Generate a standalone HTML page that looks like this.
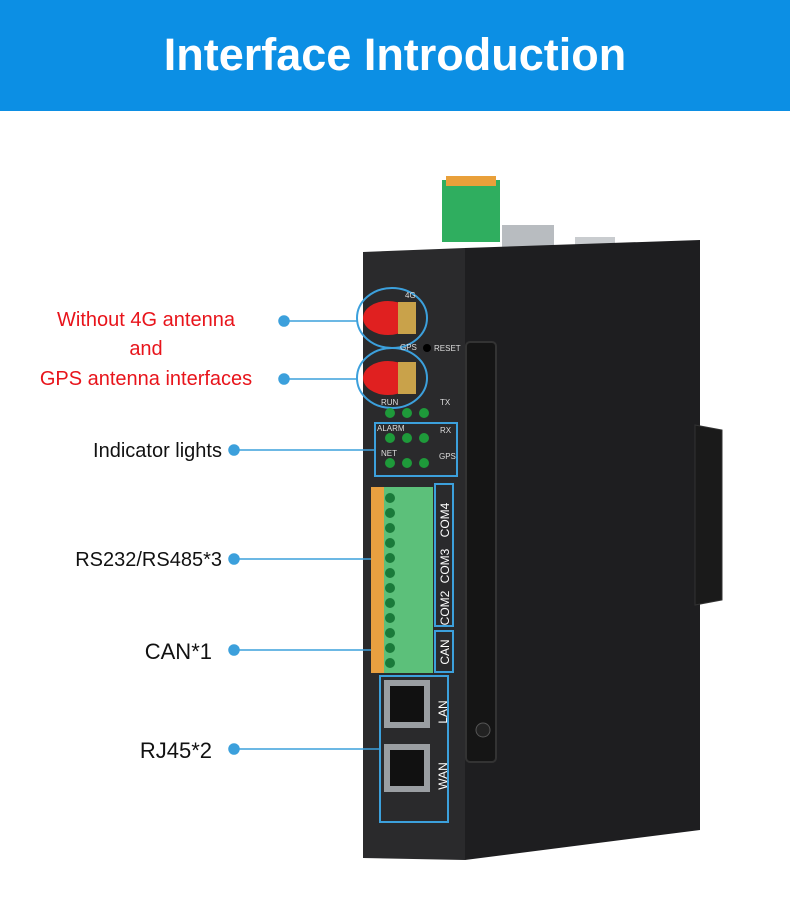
<!DOCTYPE html>
<html><head><meta charset="utf-8"><style>
body{margin:0;width:790px;height:893px;background:#fff;overflow:hidden;font-family:"Liberation Sans",Arial,sans-serif}
</style></head><body>
<svg width="790" height="893" viewBox="0 0 790 893" xmlns="http://www.w3.org/2000/svg" font-family="Liberation Sans, Arial, sans-serif">
<rect x="0" y="0" width="790" height="111" fill="#0c8fe4"/>
<text x="395" y="70" text-anchor="middle" fill="#fff" font-size="45" font-weight="bold">Interface Introduction</text>
<!-- top connectors -->
<rect x="442" y="180" width="58" height="62" fill="#2fae5f"/>
<rect x="446" y="176" width="50" height="10" fill="#e9a03a"/>
<rect x="502" y="225" width="52" height="22" fill="#b8bcc0"/>
<rect x="575" y="237" width="40" height="12" fill="#c9cccf"/>
<!-- side face -->
<polygon points="465,248 700,240 700,830 465,860" fill="#1e1e20"/>
<!-- din rail -->
<polygon points="695,425 722,430 722,600 695,605" fill="#1a1a1a" stroke="#333"/>
<!-- plate on side -->
<rect x="466" y="342" width="30" height="420" rx="4" fill="#151515" stroke="#333" stroke-width="2"/>
<circle cx="483" cy="730" r="7" fill="#222" stroke="#555"/>
<!-- front face -->
<polygon points="363,252 465,248 465,860 363,858" fill="#2a2a2c"/>
<!-- antennas -->
<g>
<ellipse cx="388" cy="318" rx="25" ry="17" fill="#e02020"/>
<rect x="398" y="302" width="18" height="32" fill="#c9a24a"/>
<ellipse cx="388" cy="378" rx="25" ry="17" fill="#e02020"/>
<rect x="398" y="362" width="18" height="32" fill="#c9a24a"/>
</g>
<ellipse cx="392" cy="318" rx="35" ry="30" fill="none" stroke="#3ca0dc" stroke-width="2"/>
<ellipse cx="392" cy="378" rx="35" ry="30" fill="none" stroke="#3ca0dc" stroke-width="2"/>
<text x="405" y="298" font-size="8" fill="#ddd">4G</text>
<text x="400" y="350" font-size="8" fill="#ddd">GPS</text>
<circle cx="427" cy="348" r="4" fill="#000"/>
<text x="434" y="351" font-size="8" fill="#ddd">RESET</text>
<text x="381" y="405" font-size="8" fill="#ddd">RUN</text>
<text x="440" y="405" font-size="8" fill="#ddd">TX</text>
<text x="377" y="431" font-size="8" fill="#ddd">ALARM</text>
<text x="440" y="433" font-size="8" fill="#ddd">RX</text>
<text x="381" y="456" font-size="8" fill="#ddd">NET</text>
<text x="439" y="459" font-size="8" fill="#ddd">GPS</text>
<g fill="#1e9a3a">
<circle cx="390" cy="413" r="5"/><circle cx="407" cy="413" r="5"/><circle cx="424" cy="413" r="5"/>
<circle cx="390" cy="438" r="5"/><circle cx="407" cy="438" r="5"/><circle cx="424" cy="438" r="5"/>
<circle cx="390" cy="463" r="5"/><circle cx="407" cy="463" r="5"/><circle cx="424" cy="463" r="5"/>
</g>
<rect x="375" y="423" width="82" height="53" fill="none" stroke="#3ca0dc" stroke-width="2"/>
<!-- terminal block -->
<rect x="371" y="487" width="13" height="186" fill="#e8a040"/>
<rect x="384" y="487" width="49" height="186" fill="#5cc07a"/>
<g fill="#1a7a3a">
<circle cx="390" cy="498" r="5"/><circle cx="390" cy="513" r="5"/><circle cx="390" cy="528" r="5"/><circle cx="390" cy="543" r="5"/><circle cx="390" cy="558" r="5"/><circle cx="390" cy="573" r="5"/><circle cx="390" cy="588" r="5"/><circle cx="390" cy="603" r="5"/><circle cx="390" cy="618" r="5"/><circle cx="390" cy="633" r="5"/><circle cx="390" cy="648" r="5"/><circle cx="390" cy="663" r="5"/>
</g>
<rect x="435" y="484" width="18" height="142" fill="none" stroke="#3ca0dc" stroke-width="2"/>
<rect x="435" y="631" width="18" height="41" fill="none" stroke="#3ca0dc" stroke-width="2"/>
<g fill="#fff" font-size="12">
<text transform="translate(449,520) rotate(-90)" text-anchor="middle">COM4</text>
<text transform="translate(449,566) rotate(-90)" text-anchor="middle">COM3</text>
<text transform="translate(449,608) rotate(-90)" text-anchor="middle">COM2</text>
<text transform="translate(449,652) rotate(-90)" text-anchor="middle">CAN</text>
<text transform="translate(447,712) rotate(-90)" text-anchor="middle">LAN</text>
<text transform="translate(447,776) rotate(-90)" text-anchor="middle">WAN</text>
</g>
<!-- RJ45 -->
<rect x="384" y="680" width="46" height="48" fill="#9a9ea2"/><rect x="390" y="686" width="34" height="36" fill="#111"/>
<rect x="384" y="744" width="46" height="48" fill="#9a9ea2"/><rect x="390" y="750" width="34" height="36" fill="#111"/>
<rect x="380" y="676" width="68" height="146" fill="none" stroke="#3ca0dc" stroke-width="2"/>
<!-- leaders -->
<g stroke="#3ca0dc" stroke-width="1.5" fill="#3ca0dc">
<line x1="284" y1="321" x2="357" y2="321"/><circle cx="284" cy="321" r="5"/>
<line x1="284" y1="379" x2="357" y2="379"/><circle cx="284" cy="379" r="5"/>
<line x1="234" y1="450" x2="375" y2="450"/><circle cx="234" cy="450" r="5"/>
<line x1="234" y1="559" x2="371" y2="559"/><circle cx="234" cy="559" r="5"/>
<line x1="234" y1="650" x2="371" y2="650"/><circle cx="234" cy="650" r="5"/>
<line x1="234" y1="749" x2="380" y2="749"/><circle cx="234" cy="749" r="5"/>
</g>
<g font-size="20">
<text x="146" y="326" text-anchor="middle" fill="#e8141b">Without 4G antenna</text>
<text x="146" y="355" text-anchor="middle" fill="#e8141b">and</text>
<text x="146" y="385" text-anchor="middle" fill="#e8141b">GPS antenna interfaces</text>
<text x="222" y="457" text-anchor="end" fill="#111">Indicator lights</text>
<text x="222" y="566" text-anchor="end" fill="#111">RS232/RS485*3</text>
<text x="212" y="659" text-anchor="end" fill="#111" font-size="22">CAN*1</text>
<text x="212" y="758" text-anchor="end" fill="#111" font-size="22">RJ45*2</text>
</g>
</svg>
</body></html>
